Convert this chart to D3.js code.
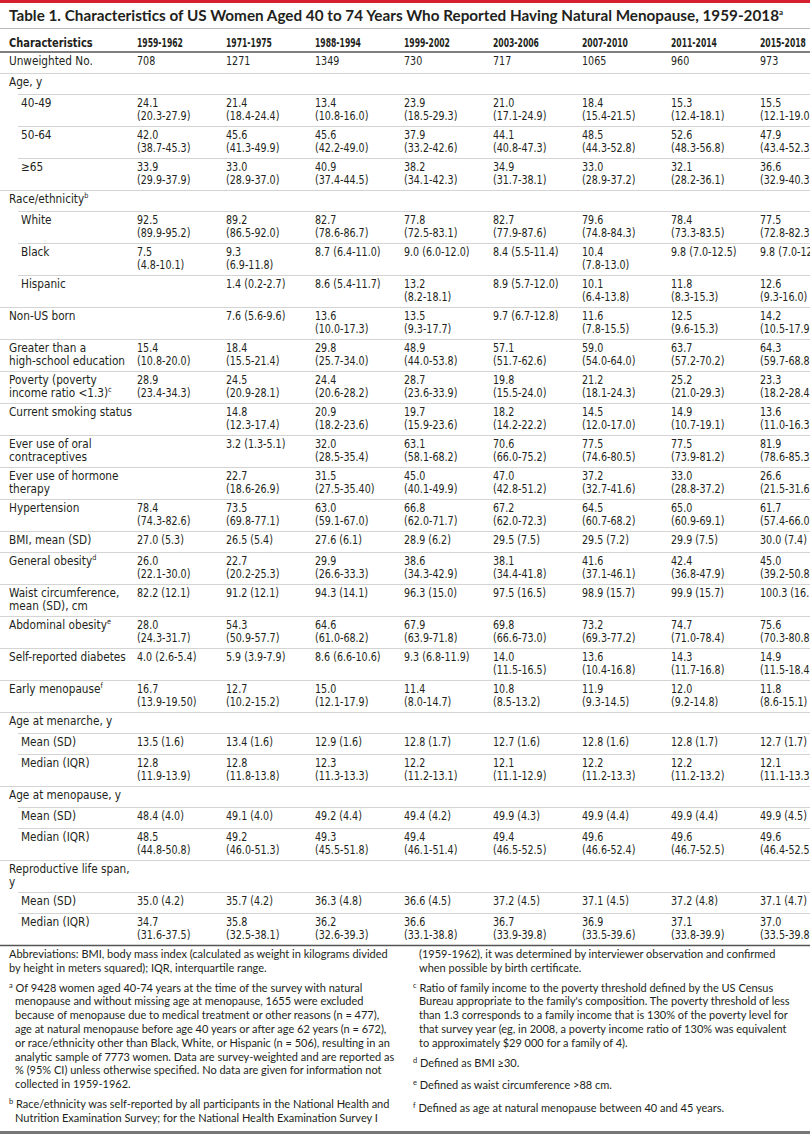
<!DOCTYPE html>
<html><head><meta charset="utf-8">
<script src="https://cdn.jsdelivr.net/npm/d3@7/dist/d3.min.js"></script>
<style>body{margin:0;background:#fff}svg{display:block}</style>
</head><body>
<script>
const periods = ["1959-1962","1971-1975","1988-1994","1999-2002","2003-2006","2007-2010","2011-2014","2015-2018"];
const characteristics = ["Unweighted No.","Age, y","40-49","50-64","≥65","Race/ethnicity","White","Black","Hispanic","Non-US born","Greater than a|high-school education","Poverty (poverty|income ratio <1.3)","Current smoking status","Ever use of oral|contraceptives","Ever use of hormone|therapy","Hypertension","BMI, mean (SD)","General obesity","Waist circumference,|mean (SD), cm","Abdominal obesity","Self-reported diabetes","Early menopause","Age at menarche, y","Mean (SD)","Median (IQR)","Age at menopause, y","Mean (SD)","Median (IQR)","Reproductive life span,|y","Mean (SD)","Median (IQR)"];
const labelSup = {5:"b",11:"c",17:"d",19:"e",21:"f"};
const rowLevel = [0,0,1,1,1,0,1,1,1,0,0,0,0,0,0,0,0,0,0,0,0,0,0,1,1,0,1,1,0,1,1];
const rowLines = [1,1,2,2,2,1,2,2,2,2,2,2,2,2,2,2,1,2,2,2,2,2,1,1,2,1,1,2,2,1,2];
const v1959 = ["708","","24.1|(20.3-27.9)","42.0|(38.7-45.3)","33.9|(29.9-37.9)","","92.5|(89.9-95.2)","7.5|(4.8-10.1)","","","15.4|(10.8-20.0)","28.9|(23.4-34.3)","","","","78.4|(74.3-82.6)","27.0 (5.3)","26.0|(22.1-30.0)","82.2 (12.1)","28.0|(24.3-31.7)","4.0 (2.6-5.4)","16.7|(13.9-19.50)","","13.5 (1.6)","12.8|(11.9-13.9)","","48.4 (4.0)","48.5|(44.8-50.8)","","35.0 (4.2)","34.7|(31.6-37.5)"];
const v1971 = ["1271","","21.4|(18.4-24.4)","45.6|(41.3-49.9)","33.0|(28.9-37.0)","","89.2|(86.5-92.0)","9.3|(6.9-11.8)","1.4 (0.2-2.7)","7.6 (5.6-9.6)","18.4|(15.5-21.4)","24.5|(20.9-28.1)","14.8|(12.3-17.4)","3.2 (1.3-5.1)","22.7|(18.6-26.9)","73.5|(69.8-77.1)","26.5 (5.4)","22.7|(20.2-25.3)","91.2 (12.1)","54.3|(50.9-57.7)","5.9 (3.9-7.9)","12.7|(10.2-15.2)","","13.4 (1.6)","12.8|(11.8-13.8)","","49.1 (4.0)","49.2|(46.0-51.3)","","35.7 (4.2)","35.8|(32.5-38.1)"];
const v1988 = ["1349","","13.4|(10.8-16.0)","45.6|(42.2-49.0)","40.9|(37.4-44.5)","","82.7|(78.6-86.7)","8.7 (6.4-11.0)","8.6 (5.4-11.7)","13.6|(10.0-17.3)","29.8|(25.7-34.0)","24.4|(20.6-28.2)","20.9|(18.2-23.6)","32.0|(28.5-35.4)","31.5|(27.5-35.40)","63.0|(59.1-67.0)","27.6 (6.1)","29.9|(26.6-33.3)","94.3 (14.1)","64.6|(61.0-68.2)","8.6 (6.6-10.6)","15.0|(12.1-17.9)","","12.9 (1.6)","12.3|(11.3-13.3)","","49.2 (4.4)","49.3|(45.5-51.8)","","36.3 (4.8)","36.2|(32.6-39.3)"];
const v1999 = ["730","","23.9|(18.5-29.3)","37.9|(33.2-42.6)","38.2|(34.1-42.3)","","77.8|(72.5-83.1)","9.0 (6.0-12.0)","13.2|(8.2-18.1)","13.5|(9.3-17.7)","48.9|(44.0-53.8)","28.7|(23.6-33.9)","19.7|(15.9-23.6)","63.1|(58.1-68.2)","45.0|(40.1-49.9)","66.8|(62.0-71.7)","28.9 (6.2)","38.6|(34.3-42.9)","96.3 (15.0)","67.9|(63.9-71.8)","9.3 (6.8-11.9)","11.4|(8.0-14.7)","","12.8 (1.7)","12.2|(11.2-13.1)","","49.4 (4.2)","49.4|(46.1-51.4)","","36.6 (4.5)","36.6|(33.1-38.8)"];
const v2003 = ["717","","21.0|(17.1-24.9)","44.1|(40.8-47.3)","34.9|(31.7-38.1)","","82.7|(77.9-87.6)","8.4 (5.5-11.4)","8.9 (5.7-12.0)","9.7 (6.7-12.8)","57.1|(51.7-62.6)","19.8|(15.5-24.0)","18.2|(14.2-22.2)","70.6|(66.0-75.2)","47.0|(42.8-51.2)","67.2|(62.0-72.3)","29.5 (7.5)","38.1|(34.4-41.8)","97.5 (16.5)","69.8|(66.6-73.0)","14.0|(11.5-16.5)","10.8|(8.5-13.2)","","12.7 (1.6)","12.1|(11.1-12.9)","","49.9 (4.3)","49.4|(46.5-52.5)","","37.2 (4.5)","36.7|(33.9-39.8)"];
const v2007 = ["1065","","18.4|(15.4-21.5)","48.5|(44.3-52.8)","33.0|(28.9-37.2)","","79.6|(74.8-84.3)","10.4|(7.8-13.0)","10.1|(6.4-13.8)","11.6|(7.8-15.5)","59.0|(54.0-64.0)","21.2|(18.1-24.3)","14.5|(12.0-17.0)","77.5|(74.6-80.5)","37.2|(32.7-41.6)","64.5|(60.7-68.2)","29.5 (7.2)","41.6|(37.1-46.1)","98.9 (15.7)","73.2|(69.3-77.2)","13.6|(10.4-16.8)","11.9|(9.3-14.5)","","12.8 (1.6)","12.2|(11.2-13.3)","","49.9 (4.4)","49.6|(46.6-52.4)","","37.1 (4.5)","36.9|(33.5-39.6)"];
const v2011 = ["960","","15.3|(12.4-18.1)","52.6|(48.3-56.8)","32.1|(28.2-36.1)","","78.4|(73.3-83.5)","9.8 (7.0-12.5)","11.8|(8.3-15.3)","12.5|(9.6-15.3)","63.7|(57.2-70.2)","25.2|(21.0-29.3)","14.9|(10.7-19.1)","77.5|(73.9-81.2)","33.0|(28.8-37.2)","65.0|(60.9-69.1)","29.9 (7.5)","42.4|(36.8-47.9)","99.9 (15.7)","74.7|(71.0-78.4)","14.3|(11.7-16.8)","12.0|(9.2-14.8)","","12.8 (1.7)","12.2|(11.2-13.2)","","49.9 (4.4)","49.6|(46.7-52.5)","","37.2 (4.8)","37.1|(33.8-39.9)"];
const v2015 = ["973","","15.5|(12.1-19.0)","47.9|(43.4-52.3)","36.6|(32.9-40.3)","","77.5|(72.8-82.3)","9.8 (7.0-12.7)","12.6|(9.3-16.0)","14.2|(10.5-17.9)","64.3|(59.7-68.8)","23.3|(18.2-28.4)","13.6|(11.0-16.3)","81.9|(78.6-85.3)","26.6|(21.5-31.6)","61.7|(57.4-66.0)","30.0 (7.4)","45.0|(39.2-50.8)","100.3 (16.1)","75.6|(70.3-80.8)","14.9|(11.5-18.4)","11.8|(8.6-15.1)","","12.7 (1.7)","12.1|(11.1-13.3)","","49.9 (4.5)","49.6|(46.4-52.5)","","37.1 (4.7)","37.0|(33.5-39.8)"];
const seriesValues = [v1959,v1971,v1988,v1999,v2003,v2007,v2011,v2015];

const footLeft = [
 {t:"Abbreviations: BMI, body mass index (calculated as weight in kilograms divided"},
 {t:"by height in meters squared); IQR, interquartile range."},
 {gap:6, s:"a", t:"Of 9428 women aged 40-74 years at the time of the survey with natural"},
 {t:"menopause and without missing age at menopause, 1655 were excluded", i:1},
 {t:"because of menopause due to medical treatment or other reasons (n = 477),", i:1},
 {t:"age at natural menopause before age 40 years or after age 62 years (n = 672),", i:1},
 {t:"or race/ethnicity other than Black, White, or Hispanic (n = 506), resulting in an", i:1},
 {t:"analytic sample of 7773 women. Data are survey-weighted and are reported as", i:1},
 {t:"% (95% CI) unless otherwise specified. No data are given for information not", i:1},
 {t:"collected in 1959-1962.", i:1},
 {gap:6, s:"b", t:"Race/ethnicity was self-reported by all participants in the National Health and"},
 {t:"Nutrition Examination Survey; for the National Health Examination Survey I", i:1}
];
const footRight = [
 {t:"(1959-1962), it was determined by interviewer observation and confirmed", i:1},
 {t:"when possible by birth certificate.", i:1},
 {gap:6, s:"c", t:"Ratio of family income to the poverty threshold defined by the US Census"},
 {t:"Bureau appropriate to the family's composition. The poverty threshold of less", i:1},
 {t:"than 1.3 corresponds to a family income that is 130% of the poverty level for", i:1},
 {t:"that survey year (eg, in 2008, a poverty income ratio of 130% was equivalent", i:1},
 {t:"to approximately $29 000 for a family of 4).", i:1},
 {gap:6, s:"d", t:"Defined as BMI ≥30."},
 {gap:9, s:"e", t:"Defined as waist circumference >88 cm."},
 {gap:9, s:"f", t:"Defined as age at natural menopause between 40 and 45 years."}
];

const W=810,H=1136;
const svg=d3.select("body").append("svg").attr("width",W).attr("height",H);
const tf="'Liberation Sans Narrow','DejaVu Sans Condensed',sans-serif";
const ff="Lato,'Noto Sans',sans-serif";
const col="#231f20";

svg.append("rect").attr("x",0).attr("y",0).attr("width",W).attr("height",3).attr("fill","#d6202f");
const title=svg.append("text").attr("x",9).attr("y",21).attr("font-family",ff).attr("font-weight",700)
 .attr("font-size",14.4).attr("fill",col);
title.append("tspan").attr("textLength",770).attr("lengthAdjust","spacingAndGlyphs")
 .text("Table 1. Characteristics of US Women Aged 40 to 74 Years Who Reported Having Natural Menopause, 1959-2018");
title.append("tspan").attr("font-size",8).attr("dy",-6).text("a");
svg.append("line").attr("x1",0).attr("x2",W).attr("y1",28.5).attr("y2",28.5).attr("stroke","#bbb");

const x=d3.scalePoint().domain(periods).range([137,760]);
const tableX0=9, subX=21;
const headerY=43;
const fs=12.2;
svg.append("text").attr("transform",`translate(${tableX0},${headerY+4}) scale(0.9,1)`).attr("font-family",tf).attr("font-weight",700)
 .attr("font-size",fs).attr("fill",col).text("Characteristics");
svg.selectAll("text.hd").data(periods).join("text").attr("class","hd")
 .attr("transform",d=>`translate(${x(d)},${headerY+4}) scale(0.7,1)`).attr("font-family",tf).attr("font-weight",700)
 .attr("font-size",fs).attr("fill",col).text(d=>d);
svg.append("line").attr("x1",0).attr("x2",W).attr("y1",52).attr("y2",52).attr("stroke","#555").attr("stroke-width",1.4);

const rowH=[21,32];
let y=52;
const rows=characteristics.map((lab,i)=>{const r={i,lab,y0:y,h:rowH[rowLines[i]-1]};y+=r.h;return r;});
const lh=12.8, base=13;

const g=svg.append("g");
rows.forEach(r=>{
  const lx = rowLevel[r.i]?subX:tableX0;
  const t=g.append("text").attr("transform",`translate(${lx},0) scale(0.96,1)`).attr("font-family",tf).attr("font-size",fs).attr("fill",col);
  r.lab.split("|").forEach((p,k)=>{
    t.append("tspan").attr("x",0).attr("y",r.y0+base+k*lh).text(p);
  });
  if(labelSup[r.i]) t.append("tspan").attr("font-size",7.5).attr("dy",-5).text(labelSup[r.i]);
  periods.forEach((p,c)=>{
    const v=seriesValues[c][r.i]; if(!v) return;
    const tt=g.append("text").attr("transform",`translate(${x(p)},0) scale(0.87,1)`).attr("font-family",tf).attr("font-size",fs).attr("fill",col);
    v.split("|").forEach((s,k)=>tt.append("tspan").attr("x",0).attr("y",r.y0+base+k*lh).text(s));
  });
  const last=r.i===rows.length-1;
  const ind = !last && rowLevel[r.i+1]===1 ? 18 : 0;
  g.append("line").attr("x1",ind).attr("x2",W).attr("y1",r.y0+r.h+0.5).attr("y2",r.y0+r.h+0.5)
   .attr("stroke",last?"#555":"#d4d4d4").attr("stroke-width",last?1.4:1);
});

function foot(list,x0,y0){
  let yy=y0;
  list.forEach((f,k)=>{
    if(k>0) yy+=13.8+(f.gap||0);
    const t=svg.append("text").attr("x",x0+(f.i?6:0)).attr("y",yy).attr("font-family",ff)
      .attr("font-size",11).attr("fill",col);
    if(f.s){t.append("tspan").attr("font-size",7.5).attr("dy",-4).text(f.s);t.append("tspan").attr("dy",4).text(" "+f.t);}
    else t.text(f.t);
  });
}
const fy=y+13;
foot(footLeft,9,fy);
foot(footRight,413,fy);
svg.append("rect").attr("x",0).attr("y",1131).attr("width",W).attr("height",3).attr("fill","#777");
</script>
</body></html>
